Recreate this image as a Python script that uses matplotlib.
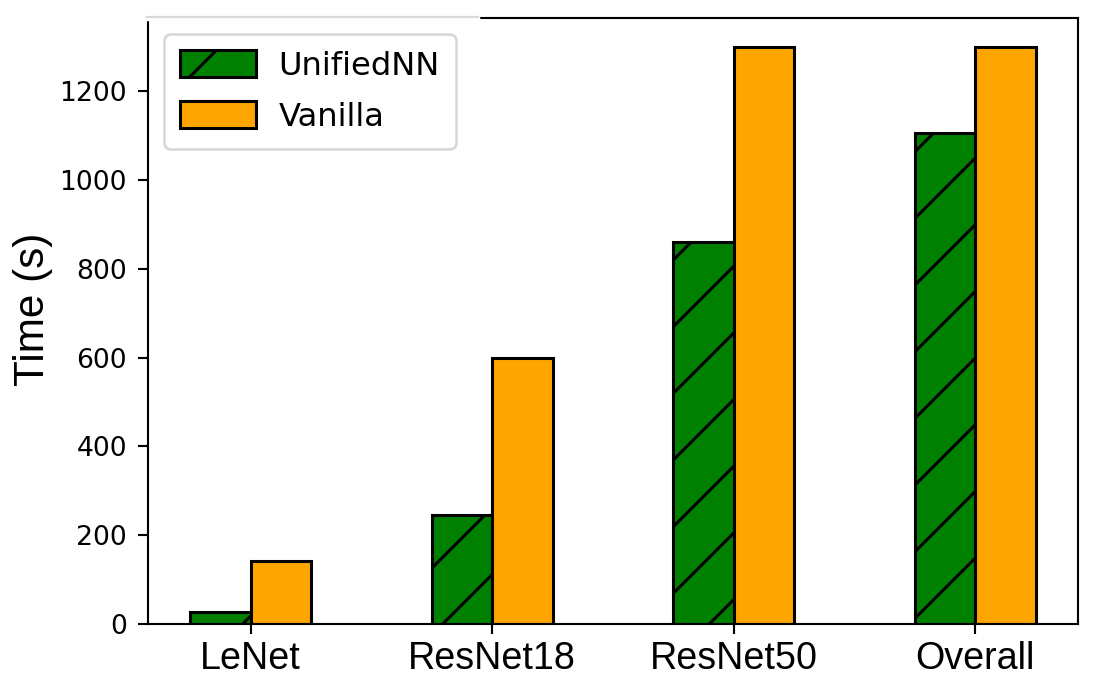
import numpy as np
import matplotlib
matplotlib.use("Agg")
import matplotlib.pyplot as plt
from matplotlib.lines import Line2D

models = ['LeNet', 'ResNet18', 'ResNet50', 'Overall']
unified = [28, 246, 860, 1105]
vanilla = [142, 600, 1300, 1300]

# the original was drawn at a high dpi, so everything is in small points
DPI = 400
plt.rcParams['hatch.linewidth'] = 0.55
plt.rcParams['axes.linewidth'] = 0.38

fig = plt.figure(figsize=(1099 / DPI, 691 / DPI), dpi=DPI)
ax = fig.add_axes([148 / 1099, 1 - 624 / 691, 930 / 1099, 606 / 691])

x = np.arange(len(models))
w = 0.25
ax.bar(x - w / 2, unified, w, color='green', edgecolor='black',
       linewidth=0.55, hatch='//', label='UnifiedNN')
ax.bar(x + w / 2, vanilla, w, color='orange', edgecolor='black',
       linewidth=0.55, label='Vanilla')

ax.set_xticks(x)
ax.set_xticklabels(models, fontsize=6.8, family='Liberation Sans')
ax.set_yticks(np.arange(0, 1201, 200))
for lab in ax.get_yticklabels():
    lab.set_fontsize(4.8)
    lab.set_family('DejaVu Sans')
ax.tick_params(length=1.8, width=0.38, pad=2)
ax.tick_params(axis='x', pad=1.2)
ax.set_ylabel('Time (s)', fontsize=7.6, family='Liberation Sans', labelpad=1.2)
ax.yaxis.label.set_y(0.52)

leg = ax.legend(loc='upper left', prop={'family': 'DejaVu Sans', 'size': 5.8},
                handlelength=2.35, handleheight=0.88, handletextpad=0.7,
                labelspacing=0.62, borderpad=0.5)
leg.get_frame().set_linewidth(0.45)

# top spine partly covered in the source picture
y_top = 1 - 18.5 / 691
fig.add_artist(Line2D([147 / 1099, 478 / 1099], [y_top, y_top], color='white', lw=0.8))
fig.add_artist(Line2D([147 / 1099, 478 / 1099], [y_top + 0.002, y_top + 0.002],
                      color='#d9d9d9', lw=0.4))

fig.savefig('out.png', dpi=DPI)
